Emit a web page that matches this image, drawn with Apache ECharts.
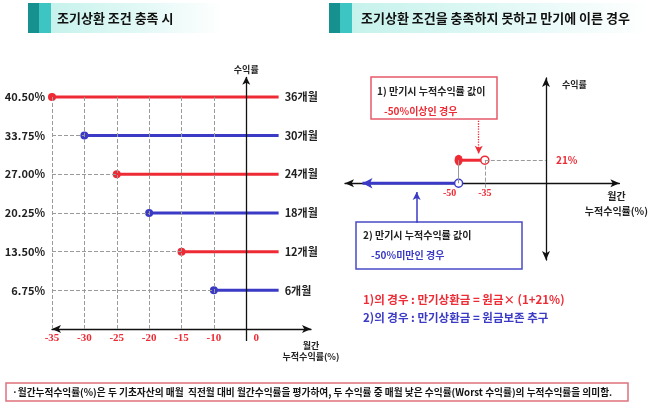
<!DOCTYPE html>
<html>
<head>
<meta charset="utf-8">
<script src="https://cdn.jsdelivr.net/npm/echarts@6/dist/echarts.min.js"></script>
<style>
  html, body { margin: 0; background: #fff; }
  #chart { width: 649px; height: 405px; }
</style>
</head>
<body>
<div id="chart"></div>
<script>
const FONT = '"Noto Sans CJK KR", sans-serif';
const SERIF = '"Liberation Serif", serif';
const RED = '#ee2b35';
const BLUE = '#3a3ac6';
const GUIDE = '#9a9a9a';

// 왼쪽: 조기상환 조건 충족 시
const leftCats = ['-35', '-30', '-25', '-20', '-15', '-10', '0', ' ', '  '];
const leftRates = [40.5, 33.75, 27, 20.25, 13.5, 6.75];
const leftStarts = ['-35', '-30', '-25', '-20', '-15', '-10'];
const leftMonths = ['36개월', '30개월', '24개월', '18개월', '12개월', '6개월'];
const leftColors = [RED, BLUE, RED, BLUE, RED, BLUE];
const leftLineEnd = ' ';

// 오른쪽: 만기에 이른 경우
const redSegX = [-50, -35];
const redSegY = 21;
const blueSegX = [-105, -50];
const rightTicks = [-50, -35];
const pointerRed = [[-38.5, 57], [-38.5, 27]];
const pointerBlue = [[-74, -36], [-74, -8]];

const boldText = (size, color) => ({ fontFamily: FONT, fontWeight: 'bold', fontSize: size, color: color });

const chart = echarts.init(document.getElementById('chart'));

const rightGrid = { left: 345, right: 27, top: 78, bottom: 145 };
const rightY = { min: -70, max: 96 };
const rightZeroOffset = -(405 - rightGrid.top - rightGrid.bottom) * (0 - rightY.min) / (rightY.max - rightY.min);

// 왼쪽 보조선 (세로 점선, 수익률 축)
const leftGuides = leftStarts.map(c => [
  { coord: [c, 0], lineStyle: { color: GUIDE, type: 'dashed', width: 1 } },
  { coord: [c, Math.max(...leftRates)] }
]);
leftGuides.push([
  { coord: ['0', 0], symbol: 'none', lineStyle: { color: '#111', type: 'solid', width: 1.3 },
    label: { show: true, position: 'end', distance: 3, formatter: '수익률', ...boldText(9, '#222') } },
  { coord: ['0', 44], symbol: 'arrow', symbolSize: [6, 8] }
]);

const leftSeries = leftRates.map((r, i) => {
  const c = leftColors[i];
  const guides = i === 0 ? leftGuides.slice() : [];
  if (leftStarts[i] !== leftCats[0]) {
    guides.push([
      { coord: [leftCats[0], r], lineStyle: { color: GUIDE, type: 'dashed', width: 1 } },
      { coord: [leftStarts[i], r] }
    ]);
  }
  return {
    type: 'line',
    xAxisIndex: 0,
    yAxisIndex: 0,
    clip: false,
    z: 3,
    data: [
      { value: [leftStarts[i], r], symbol: 'circle', symbolSize: 8 },
      { value: [leftLineEnd, r], symbol: 'circle', symbolSize: 0,
        label: { show: true, position: 'right', distance: 6, formatter: leftMonths[i], ...boldText(11, '#222') } }
    ],
    lineStyle: { color: c, width: 3 },
    itemStyle: { color: c },
    markLine: {
      silent: true,
      symbol: ['none', 'none'],
      label: { show: false },
      data: guides
    }
  };
});

const rightSeries = [
  {
    type: 'line',
    xAxisIndex: 1,
    yAxisIndex: 1,
    clip: false,
    z: 4,
    data: [
      { value: [redSegX[0], redSegY], symbol: 'circle', symbolSize: [8, 11], itemStyle: { color: RED } },
      { value: [redSegX[1], redSegY], symbol: 'circle', symbolSize: 8,
        itemStyle: { color: '#fff', borderColor: RED, borderWidth: 1.5 } }
    ],
    lineStyle: { color: RED, width: 3 },
    markLine: {
      silent: true,
      symbol: ['none', 'none'],
      label: { show: false },
      data: [
        [{ coord: [redSegX[0], 0], lineStyle: { color: GUIDE, width: 1, type: 'solid' } }, { coord: [redSegX[0], redSegY] }],
        [{ coord: [redSegX[1], -4], lineStyle: { color: GUIDE, width: 1, type: 'dashed' } }, { coord: [redSegX[1], redSegY] }],
        [{ coord: [redSegX[1], redSegY], lineStyle: { color: GUIDE, width: 1, type: 'dashed' },
           label: { show: true, position: 'end', distance: 10, formatter: redSegY + '%', ...boldText(10, RED) } },
         { coord: [0, redSegY] }],
        [{ coord: pointerRed[0], lineStyle: { color: RED, width: 1.3, type: 'dotted' } },
         { coord: pointerRed[1], symbol: 'arrow', symbolSize: [6, 8] }],
        [{ coord: pointerBlue[0], lineStyle: { color: BLUE, width: 1.5, type: 'solid' } },
         { coord: pointerBlue[1], symbol: 'arrow', symbolSize: [6, 8] }]
      ]
    }
  },
  {
    type: 'line',
    xAxisIndex: 1,
    yAxisIndex: 1,
    clip: false,
    z: 4,
    data: [
      { value: [blueSegX[0], 0], symbol: 'arrow', symbolSize: [8, 10], symbolRotate: 90, itemStyle: { color: BLUE } },
      { value: [blueSegX[1], 0], symbol: 'circle', symbolSize: 8,
        itemStyle: { color: '#fff', borderColor: BLUE, borderWidth: 1.5 } }
    ],
    lineStyle: { color: BLUE, width: 3 }
  }
];

const txt = (x, y, text, size, color, extra) => ({
  type: 'text', x: x, y: y, silent: true,
  style: Object.assign({
    text: text, fill: color, font: 'bold ' + size + 'px ' + FONT,
    verticalAlign: 'middle', textVerticalAlign: 'middle'
  }, extra || {})
});

const header = (x, w) => ([
  { type: 'rect', silent: true, shape: { x: x + 22, y: 3, width: w - 22, height: 30 },
    style: { fill: new echarts.graphic.LinearGradient(0, 0, 1, 0, [
      { offset: 0, color: '#c6f2ec' }, { offset: 0.55, color: '#e4f9f6' }, { offset: 1, color: '#ffffff' }
    ]) } },
  { type: 'rect', silent: true, shape: { x: x, y: 3, width: 11, height: 30 }, style: { fill: '#17918f' } },
  { type: 'rect', silent: true, shape: { x: x + 11, y: 3, width: 12, height: 30 }, style: { fill: '#3cc5c2' } }
]);

const graphics = [
  ...header(28, 195),
  txt(57, 18, '조기상환 조건 충족 시', 13, '#111'),
  ...header(329, 320),
  txt(361, 18, '조기상환 조건을 충족하지 못하고 만기에 이른 경우', 13, '#111'),
  { type: 'text', x: 311, y: 340, silent: true,
    style: { text: '월간\n누적수익률(%)', fill: '#222', font: 'bold 9px ' + FONT, align: 'center', textAlign: 'center', lineHeight: 11 } },
  // 설명 박스 1
  { type: 'rect', silent: true, shape: { x: 371, y: 77, width: 126, height: 42 },
    style: { fill: '#fff', stroke: '#e65a68', lineWidth: 1.5 } },
  txt(377, 91, '1) 만기시 누적수익률 값이', 10, '#222'),
  txt(384, 111, '-50%이상인 경우', 10, RED),
  // 설명 박스 2
  { type: 'rect', silent: true, shape: { x: 356, y: 222, width: 166, height: 47 },
    style: { fill: '#fff', stroke: '#4a4ac8', lineWidth: 1.5 } },
  txt(363, 235, '2) 만기시 누적수익률 값이', 10, '#222'),
  txt(371, 255, '-50%미만인 경우', 10, BLUE),
  txt(363, 300, '1)의 경우 : 만기상환금 = 원금× (1+21%)', 11.5, RED),
  txt(363, 318, '2)의 경우 : 만기상환금 = 원금보존 추구', 11.5, BLUE),
  // 하단 주석
  { type: 'rect', silent: true, shape: { x: 6, y: 383, width: 622, height: 18 },
    style: { fill: 'none', stroke: '#e0707c', lineWidth: 1.5 } },
  txt(12, 392, '·월간누적수익률(%)은 두 기초자산의 매월  직전월 대비 월간수익률을 평가하여, 두 수익률 중 매월 낮은 수익률(Worst 수익률)의 누적수익률을 의미함.', 9.7, '#111')
];

const option = {
  backgroundColor: '#fff',
  animation: false,
  grid: [
    { left: 52, right: 338, top: 74, bottom: 76 },
    rightGrid
  ],
  xAxis: [
    {
      gridIndex: 0,
      type: 'category',
      data: leftCats,
      boundaryGap: false,
      axisLine: { onZero: false, symbol: ['arrow', 'arrow'], symbolSize: [6, 9], lineStyle: { color: '#111', width: 1.3 } },
      axisTick: {
        show: true, length: 12, interval: (i, v) => v === '0',
        lineStyle: { color: '#111', width: 1.3 }
      },
      splitLine: { show: false },
      axisLabel: {
        interval: 0, margin: 4, color: RED, fontFamily: SERIF, fontWeight: 'bold', fontSize: 11,
        formatter: v => (v === '0' ? '{z|0}' : v),
        rich: { z: { padding: [0, 0, 0, 20], color: RED, fontFamily: SERIF, fontWeight: 'bold', fontSize: 11 } }
      }
    },
    {
      gridIndex: 1,
      type: 'value',
      min: -115,
      max: 42,
      offset: rightZeroOffset,
      axisLine: { onZero: false, symbol: ['arrow', 'arrow'], symbolSize: [6, 9], lineStyle: { color: '#111', width: 1.3 } },
      axisTick: { show: false },
      splitLine: { show: false },
      axisLabel: {
        customValues: rightTicks, margin: 5, ...boldText(10, RED), fontFamily: SERIF,
        formatter: v => (v === rightTicks[0] ? '{l|' + v + '}' : String(v)),
        rich: { l: { padding: [0, 18, 0, 0], ...boldText(10, RED), fontFamily: SERIF } }
      },
      name: '월간\n누적수익률(%)',
      nameLocation: 'end',
      nameGap: -3,
      nameTextStyle: { ...boldText(10, '#222'), align: 'center', verticalAlign: 'top', lineHeight: 15, padding: [5, 0, 0, 0] }
    }
  ],
  yAxis: [
    {
      gridIndex: 0,
      type: 'value',
      min: 0,
      max: 44.5,
      interval: 6.75,
      axisLine: { show: false },
      axisTick: { show: false },
      splitLine: { show: false },
      axisLabel: {
        margin: 7, ...boldText(11, '#222'),
        formatter: v => (v > 0 && v <= Math.max(...leftRates) ? v.toFixed(2) + '%' : '')
      }
    },
    {
      gridIndex: 1,
      type: 'value',
      min: rightY.min,
      max: rightY.max,
      axisLine: { show: true, onZero: true, symbol: ['arrow', 'arrow'], symbolSize: [6, 9], lineStyle: { color: '#111', width: 1.3 } },
      axisTick: { show: false },
      splitLine: { show: false },
      axisLabel: { show: false },
      name: '수익률',
      nameLocation: 'end',
      nameGap: 0,
      nameTextStyle: { ...boldText(9, '#222'), align: 'left', verticalAlign: 'top', padding: [2, 0, 0, 16] }
    }
  ],
  series: [...leftSeries, ...rightSeries],
  graphic: { elements: graphics }
};

chart.setOption(option);
</script>
</body>
</html>
